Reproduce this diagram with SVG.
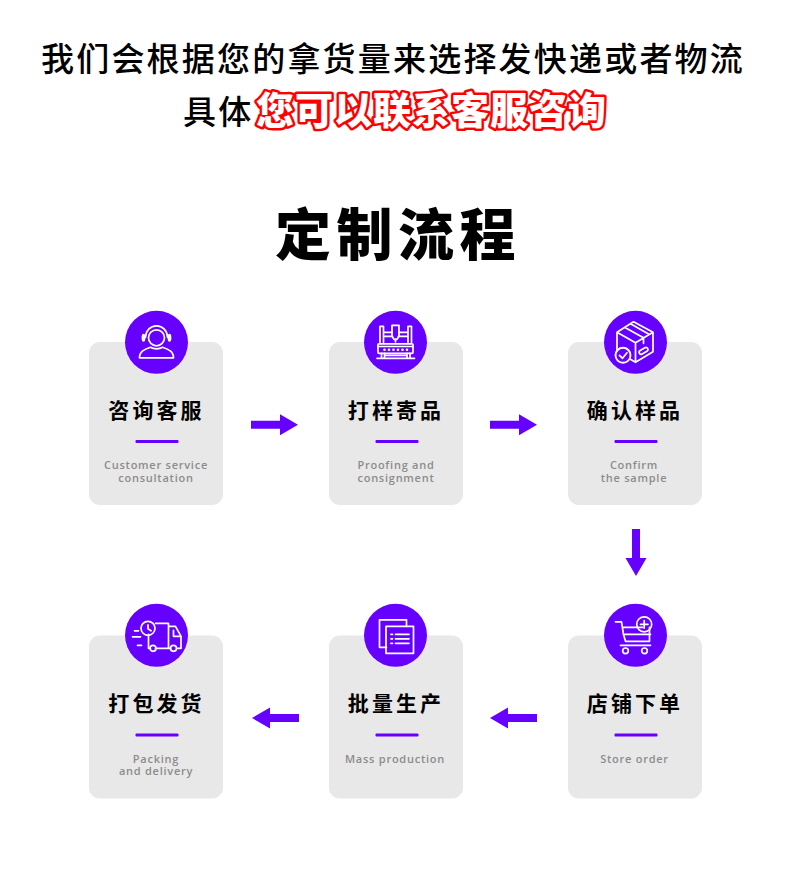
<svg xmlns="http://www.w3.org/2000/svg" width="790" height="869" viewBox="0 0 790 869">
<style>
text{font-family:"Noto Sans CJK SC","Noto Sans",sans-serif}
.h{font-size:33px;font-weight:500;letter-spacing:2.2px;fill:#000}
.r{font-size:38px;font-weight:900;letter-spacing:1px;fill:#fff;stroke:#f00;stroke-width:5px;paint-order:stroke;stroke-linejoin:round}
.m{font-size:56px;font-weight:900;letter-spacing:5.5px;fill:#000;text-anchor:middle}
.t{font-size:21px;font-weight:700;letter-spacing:3.1px;fill:#000;text-anchor:middle}
.s{font-family:"Open Sans",sans-serif;font-size:11px;font-weight:600;letter-spacing:.75px;fill:#8c8c8c;text-anchor:middle}
.card{fill:#e8e8e8}
.p{fill:#6600ff}
.i{fill:none;stroke:#fff;stroke-width:1.7;stroke-linecap:round;stroke-linejoin:round}
.w{fill:#fff}
</style>
<defs>
<g id="base"><rect class="card" x="-67" y="0" width="134" height="163" rx="11"/><rect class="p" x="-20.500" y="98" width="43" height="3" rx="1"/></g>
<polygon id="arrow" class="p" points="0,-4 29,-4 29,-10.500 47,0 29,10.500 29,4 0,4"/>
</defs>
<text class="h" x="41" y="71">我们会根据您的拿货量来选择发快递或者物流</text>
<text class="h" x="183" y="124">具体</text>
<text class="r" x="256" y="124">您可以联系客服咨询</text>
<text class="m" x="398" y="255">定制流程</text>

<g id="connectors">
<use href="#arrow" transform="translate(251,424.700)"/>
<use href="#arrow" transform="translate(490,424.700)"/>
<use href="#arrow" transform="translate(636,529) rotate(90)"/>
<use href="#arrow" transform="translate(537,718) rotate(180)"/>
<use href="#arrow" transform="translate(299,718) rotate(180)"/>
</g>

<g id="node1"><use href="#base" transform="translate(156,342)"/>
<circle class="p" cx="156.500" cy="342.300" r="31.500"/>
<g transform="translate(156.500,342.300)">
<circle class="i" cx="0" cy="-4.500" r="8"/>
<path class="i" d="M-11,-5A11,11.500 0 0 1 11,-5"/>
<ellipse class="w" cx="-13" cy="-4.500" rx="1.900" ry="4"/><ellipse class="w" cx="13" cy="-4.500" rx="1.900" ry="4"/>
<path class="i" d="M-6,5C-12,7 -17,9 -17,15.500H17C17,9 12,7 6,5C3,7 -3,7 -6,5Z"/>
</g>
<text class="t" x="156.500" y="418">咨询客服</text>
<text class="s" x="156" y="469">Customer service</text><text class="s" x="156" y="482">consultation</text></g>

<g id="node2"><use href="#base" transform="translate(396,342)"/>
<circle class="p" cx="395.500" cy="342.300" r="31.500"/>
<g transform="translate(395.500,342.300)">
<path class="i" d="M-15.500,0V-16H-12V0M12.500,0V-16H16V0M-12,-10H-3.500M3.500,-10H12.500M-12,-6H-3M3,-6H12.500"/>
<path class="i" d="M-3.500,-17H3.500V-6L1.500,-3H-1.500L-3.500,-6Z"/><path class="i" d="M0,-3V-0.500"/>
<rect class="i" x="-17.500" y="1.500" width="35" height="9.500" rx="1"/><path class="i" d="M-17.500,4.200H17.500M-18.500,16H19M-14,11V16M-11,11V16M11.500,11V16M14.500,11V16M-11,13H11"/>
<g class="w"><circle cx="-11" cy="7.500" r="1.300"/><circle cx="-6.500" cy="7.500" r="1.300"/><circle cx="-2" cy="7.500" r="1.300"/><circle cx="2.500" cy="7.500" r="1.300"/><circle cx="7" cy="7.500" r="1.300"/><circle cx="11.500" cy="7.500" r="1.300"/></g>
</g>
<text class="t" x="396" y="418">打样寄品</text>
<text class="s" x="396" y="469">Proofing and</text><text class="s" x="396" y="482">consignment</text></g>

<g id="node3"><use href="#base" transform="translate(635,342)"/>
<circle class="p" cx="635.500" cy="342.300" r="31.500"/>
<g transform="translate(635.500,342.300)">
<path class="i" d="M-18.500,-10L-2,-20.500L17.500,-10V9.500L0,20L-12,13M-18.500,-10V8M-18.500,-10L0,0.500L17.500,-10M0,0.500V20M-11,-15L8,-4.500V1M-5,-18.500L13.500,-8"/>
<rect class="i" x="-5" y="-1.500" width="9.500" height="4" rx="2" transform="translate(8,8) rotate(-30)"/>
<circle cx="-12.500" cy="13" r="7.500" fill="#6600ff" stroke="#fff" stroke-width="1.900"/>
<path class="i" d="M-16,13L-13,16L-8.500,10.500"/>
</g>
<text class="t" x="635" y="418">确认样品</text>
<text class="s" x="634" y="469">Confirm</text><text class="s" x="634" y="482">the sample</text></g>

<g id="node4"><use href="#base" transform="translate(635,635.500)"/>
<circle class="p" cx="635.500" cy="635.300" r="31.500"/>
<g transform="translate(635.500,635.300)">
<circle class="i" cx="8.700" cy="-11" r="7.500"/>
<path class="i" d="M-20,-13.500H-14L-12,-1H15M-13,-8H7"/>
<path class="i" d="M-12,-1L-10,6H14V-8" stroke-width="1.600"/>
<path class="i" d="M-15,10H15"/>
<circle class="i" cx="-10" cy="15.500" r="2.800"/><circle class="i" cx="9" cy="15.500" r="2.800"/>
<path class="i" d="M5,-11H12.500M8.700,-14.800V-7.200"/>
</g>
<text class="t" x="635" y="711">店铺下单</text>
<text class="s" x="634.500" y="763">Store order</text></g>

<g id="node5"><use href="#base" transform="translate(396,635.500)"/>
<circle class="p" cx="395.500" cy="635.300" r="31.500"/>
<g transform="translate(395.500,635.300)">
<path class="i" d="M-9,12H-16V-15.500H11V-9"/>
<rect class="i" x="-9.500" y="-9" width="27.500" height="27"/>
<path class="i" d="M0,-1H13.500M0,3.500H13.500M0,8H13.500"/>
<path class="i" d="M-4.500,-1H-3M-4.500,3.500H-3M-4.500,8H-3"/>
</g>
<text class="t" x="396" y="711">批量生产</text>
<text class="s" x="395" y="763">Mass production</text></g>

<g id="node6"><use href="#base" transform="translate(156,635.500)"/>
<circle class="p" cx="156.500" cy="635.300" r="31.500"/>
<g transform="translate(156.500,635.300)">
<circle class="i" cx="-8.500" cy="-7" r="7"/>
<path class="i" d="M-8.500,-10.500V-6.500L-5.500,-4.500"/>
<path class="i" d="M-1,-12H12V13H-1M12,-9H19L24.500,1V13H21M12,13H14M-8,-1V13H-6"/>
<path class="i" d="M17,-5V1H24"/>
<path class="i" d="M-22,-4.500H-18M-24,1.500H-16M-19,10H-15"/>
<circle class="i" cx="-3.500" cy="13" r="3"/><circle class="i" cx="17" cy="13" r="3"/>
</g>
<text class="t" x="156.500" y="711">打包发货</text>
<text class="s" x="156" y="763">Packing</text><text class="s" x="156" y="775">and delivery</text></g>
</svg>
